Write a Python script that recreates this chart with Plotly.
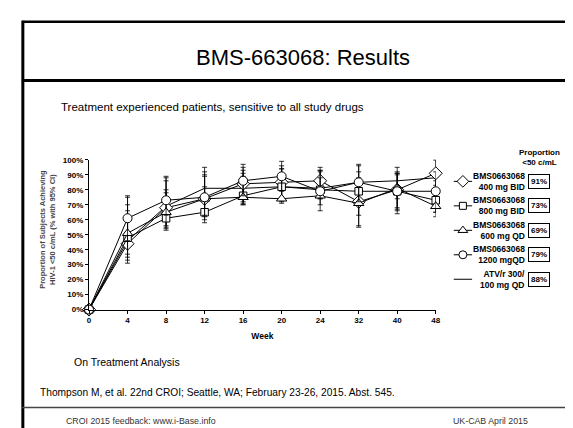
import plotly.graph_objects as go

W, H = 573, 428

weeks = ["0", "4", "8", "12", "16", "20", "24", "32", "40", "48"]

series_names = [
    "BMS0663068<br>400 mg BID",
    "BMS0663068<br>800 mg BID",
    "BMS0663068<br>600 mg QD",
    "BMS0663068<br>1200 mgQD",
    "ATV/r 300/<br>100 mg QD",
]
series_symbols = ["diamond", "square", "triangle-up", "circle", None]
final_props = ["91%", "73%", "69%", "79%", "88%"]

bid400 = [0, 44, 68, 74, 84, 85, 86, 72, 80, 91]
bid800 = [0, 48, 61, 65, 76, 82, 80, 79, 79, 73]
qd600 = [0, 51, 65, 74, 75, 74, 76, 71, 81, 69]
qd1200 = [0, 61, 73, 75, 86, 89, 79, 85, 79, 79]
atv = [0, 46, 69, 81, 81, 82, 81, 85, 86, 88]

# 95% CI bounds
bid400_hi = [0, 66, 86, 90, 95, 96, 95, 88, 92, 100]
bid400_lo = [0, 31, 55, 60, 70, 73, 74, 55, 64, 77]
bid800_hi = [0, 70, 78, 82, 91, 94, 92, 92, 91, 86]
bid800_lo = [0, 35, 53, 58, 71, 75, 76, 63, 67, 62]
qd600_hi = [0, 76, 80, 89, 89, 90, 88, 87, 90, 83]
qd600_lo = [0, 37, 56, 62, 72, 72, 74, 56, 68, 65]
qd1200_hi = [0, 75, 89, 92, 97, 99, 93, 97, 91, 92]
qd1200_lo = [0, 46, 63, 63, 76, 79, 66, 72, 66, 65]
atv_hi = [0, 60, 88, 95, 93, 94, 93, 96, 95, 100]
atv_lo = [0, 33, 54, 66, 70, 71, 70, 72, 74, 76]

values = [bid400, bid800, qd600, qd1200, atv]
highs = [bid400_hi, bid800_hi, qd600_hi, qd1200_hi, atv_hi]
lows = [bid400_lo, bid800_lo, qd600_lo, qd1200_lo, atv_lo]
marker_sizes = [10, 7.5, 9, 9, 0]
legend_marker_sizes = [9, 7, 8.5, 8, 0]

FONT = "Arial, Liberation Sans, sans-serif"


def px(x):
    return x / W


def py(y):
    return 1 - y / H


def marker(i, size):
    return dict(symbol=series_symbols[i], size=size, color="white",
                line=dict(color="black", width=1))


fig = go.Figure()

# draw the comparator line first, then the BMS arms on top
for i in [4, 0, 1, 2, 3]:
    v, hi, lo = values[i], highs[i], lows[i]
    sym = series_symbols[i]
    fig.add_trace(go.Scatter(
        x=weeks, y=v,
        mode="lines+markers" if sym else "lines",
        line=dict(color="black", width=1),
        marker=marker(i, marker_sizes[i]) if sym else None,
        error_y=dict(type="data", symmetric=False,
                     array=[h - a for h, a in zip(hi, v)],
                     arrayminus=[a - l for a, l in zip(v, lo)],
                     color="black", thickness=0.8, width=2.5),
        cliponaxis=False,
        showlegend=False,
    ))

# legend keys on a hidden axis pair, one row per series
for i, name in enumerate(series_names):
    fig.add_trace(go.Scatter(
        x=[0, 1], y=[i, i], mode="lines",
        line=dict(color="black", width=1),
        xaxis="x2", yaxis="y2", showlegend=False, cliponaxis=False,
    ))
    if series_symbols[i]:
        fig.add_trace(go.Scatter(
            x=[0.5], y=[i], mode="markers", marker=marker(i, legend_marker_sizes[i]),
            xaxis="x2", yaxis="y2", showlegend=False, cliponaxis=False,
        ))


def note(x, y, text, size, color="black", xanchor="center", **kw):
    return dict(x=px(x), y=py(y), xref="paper", yref="paper", text=text,
                showarrow=False, xanchor=xanchor, yanchor="middle",
                font=dict(family=FONT, size=size, color=color), **kw)


annotations = []
for i, name in enumerate(series_names):
    annotations.append(dict(
        x=px(523), xref="paper", y=i, yref="y2",
        text=f"<b>{name}</b>", showarrow=False, xanchor="right", yanchor="middle",
        align="right", font=dict(family=FONT, size=8.5, color="black"),
    ))
    annotations.append(dict(
        x=px(535.5), xref="paper", y=i, yref="y2",
        text=f"<b>{final_props[i]}</b>", showarrow=False,
        xanchor="center", yanchor="middle",
        font=dict(family=FONT, size=8, color="black"),
        bordercolor="black", borderwidth=1, borderpad=2, bgcolor="white",
    ))

annotations += [
    note(536, 149, "<b>Proportion<br>&lt;50 c/mL</b>", 8),
    note(296.5, 46, "BMS-663068: Results", 22),
    note(50, 97, "Treatment experienced patients, sensitive to all study drugs", 11.5,
         xanchor="left"),
    note(38, 222, "<b>Proportion of Subjects Achieving<br>HIV-1 &lt;50 c/mL (% with 95% CI)</b>",
         7.5, color="#444", textangle=-90),
    note(63, 358, "On Treatment Analysis", 10.5, xanchor="left"),
    note(28, 389, "Thompson M, et al. 22nd CROI; Seattle, WA; February 23-26, 2015. Abst. 545.",
         10.2, xanchor="left"),
    note(55, 418, "CROI 2015 feedback: www.i-Base.info", 8.8, color="#333", xanchor="left"),
    note(526, 418, "UK-CAB April 2015", 8.8, color="#333", xanchor="right"),
]

shapes = [
    dict(type="line", xref="paper", yref="paper", x0=px(13), x1=px(13), y0=py(9), y1=0,
         line=dict(color="black", width=3)),
    dict(type="line", xref="paper", yref="paper", x0=px(12), x1=1, y0=py(10), y1=py(10),
         line=dict(color="black", width=2.5)),
    dict(type="line", xref="paper", yref="paper", x0=px(12), x1=1, y0=py(70), y1=py(70),
         line=dict(color="black", width=3)),
    dict(type="line", xref="paper", yref="paper", x0=px(12), x1=1, y0=py(404), y1=py(404),
         line=dict(color="#444", width=1.5)),
]

fig.update_layout(
    width=W, height=H,
    margin=dict(l=0, r=0, t=0, b=0),
    paper_bgcolor="white", plot_bgcolor="white",
    font=dict(family=FONT, color="black"),
    xaxis=dict(
        domain=[px(80), px(431)], type="category", range=[0, 9],
        showline=True, linecolor="black", linewidth=1.2,
        ticks="outside", ticklen=3, tickcolor="black",
        tickfont=dict(family=FONT, size=8), tickprefix="<b>", ticksuffix="</b>",
        showgrid=False, zeroline=False,
        title=dict(text="<b>Week</b>", font=dict(family=FONT, size=8.5), standoff=8),
    ),
    yaxis=dict(
        domain=[py(304), py(151)], range=[0, 100], dtick=10,
        ticksuffix="%</b>", tickprefix="<b>",
        showline=True, linecolor="black", linewidth=1.2,
        ticks="outside", ticklen=3, tickcolor="black",
        tickfont=dict(family=FONT, size=8),
        showgrid=False, zeroline=False,
    ),
    xaxis2=dict(domain=[px(449), px(468)], range=[0, 1], visible=False, anchor="y2"),
    yaxis2=dict(domain=[py(285.5), py(160.5)], range=[4.5, -0.5], visible=False, anchor="x2"),
    annotations=annotations,
    shapes=shapes,
)

fig.write_html("out.html")
